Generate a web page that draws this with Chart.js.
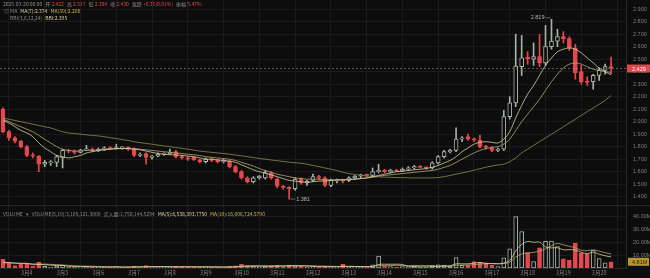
<!DOCTYPE html>
<html>
<head>
<meta charset="utf-8">
<script src="https://cdn.jsdelivr.net/npm/chart.js@4.4.1/dist/chart.umd.min.js"></script>
<style>
  body { margin: 0; background: #0d0d0d; width: 650px; height: 278px; overflow: hidden; position: relative;
         font-family: "Noto Sans CJK SC", "Liberation Sans", sans-serif; }
  canvas { position: absolute; left: 0; }
  #price { top: 0; }
  #vol { top: 205px; }
  .hd { position: absolute; font-size: 5px; line-height: 6px; white-space: nowrap; color: #8a8a8a; }
  .hd span { margin-right: 3px; }
  .r { color: #e5484d; font-weight: normal; }
  .w { color: #d9d3a3; }
  .y { color: #c9b45a; }
</style>
</head>
<body>
<canvas id="price" width="650" height="205"></canvas>
<canvas id="vol" width="650" height="73"></canvas>

<div class="hd" style="left:3px;top:1px"><span>2025-03-20 08:00</span><span>开 <b class="r">2.422</b></span><span>高 <b class="r">2.517</b></span><span>低 <b class="r">2.384</b></span><span>收 <b class="r">2.430</b></span><span>涨跌 <b class="r">+0.35(0.01%)</b></span><span>振幅 <b class="r">5.47%</b></span></div>
<div class="hd" style="left:4px;top:8px"><span>◎ MA</span><span class="w">MA(7):2.374</span><span class="y">MA(30):2.208</span></div>
<div class="hd" style="left:10px;top:15px"><span>BBI(3,6,12,24)</span><span class="w">BBI:2.395</span></div>
<div class="hd" style="left:3px;top:211px"><span>VOLUME</span><span>▾</span><span>VOLUME(5,10):3,105,121.3000</span><span>买入量:1,750,144.5294</span><span class="w">MA(5):8,538,393.7750</span><span class="y">MA(10):16,006,724.5790</span></div>

<script>
// 4h candles, 3/3 08:00 .. 3/20 08:00
const open  = [2.10,1.92,1.87,1.845,1.80,1.735,1.725,1.66,1.67,1.675,1.71,1.77,1.765,1.755,1.775,1.78,1.77,1.78,1.79,1.785,1.79,1.795,
  1.78,1.73,1.745,1.715,1.725,1.74,1.745,1.76,1.72,1.71,1.715,1.695,1.68,1.70,1.69,1.68,1.685,1.64,1.60,1.55,1.52,1.55,1.55,
  1.59,1.54,1.485,1.475,1.465,1.54,1.51,1.53,1.56,1.55,1.49,1.525,1.53,1.53,1.55,1.565,1.575,1.57,1.60,1.61,1.60,1.61,
  1.605,1.62,1.63,1.64,1.635,1.63,1.67,1.72,1.76,1.77,1.86,1.88,1.86,1.85,1.80,1.79,1.77,1.78,2.04,2.15,2.44,2.515,
  2.50,2.52,2.47,2.60,2.645,2.68,2.665,2.59,2.40,2.325,2.32,2.37,2.41,2.44];
const high  = [2.11,1.93,1.88,1.85,1.81,1.75,1.73,1.69,1.69,1.73,1.78,1.78,1.775,1.78,1.81,1.79,1.79,1.80,1.80,1.82,1.80,1.80,
  1.79,1.75,1.75,1.73,1.75,1.75,1.78,1.77,1.73,1.72,1.72,1.70,1.71,1.71,1.70,1.70,1.69,1.65,1.61,1.56,1.56,1.57,1.61,
  1.60,1.55,1.49,1.48,1.55,1.55,1.53,1.58,1.57,1.56,1.54,1.54,1.54,1.56,1.57,1.58,1.58,1.63,1.66,1.62,1.62,1.62,
  1.63,1.64,1.65,1.65,1.64,1.68,1.73,1.77,1.78,1.95,1.88,1.90,1.87,1.89,1.81,1.80,1.79,2.09,2.20,2.70,2.69,2.56,
  2.63,2.70,2.77,2.819,2.74,2.72,2.68,2.62,2.45,2.36,2.38,2.43,2.46,2.517];
const low   = [1.91,1.85,1.83,1.79,1.72,1.71,1.60,1.64,1.65,1.64,1.63,1.75,1.74,1.75,1.77,1.76,1.76,1.77,1.78,1.78,1.78,1.77,
  1.72,1.72,1.66,1.70,1.72,1.73,1.74,1.71,1.70,1.69,1.69,1.67,1.67,1.68,1.67,1.67,1.63,1.59,1.54,1.51,1.51,1.54,1.54,
  1.54,1.47,1.46,1.381,1.45,1.50,1.49,1.52,1.54,1.48,1.48,1.51,1.51,1.52,1.54,1.55,1.56,1.56,1.59,1.59,1.59,1.60,
  1.60,1.61,1.62,1.63,1.62,1.62,1.66,1.71,1.75,1.76,1.84,1.85,1.84,1.79,1.78,1.76,1.76,1.77,2.02,2.12,2.37,2.46,
  2.45,2.44,2.45,2.58,2.60,2.63,2.57,2.34,2.30,2.29,2.26,2.33,2.38,2.384];
const close = [1.92,1.87,1.845,1.80,1.73,1.725,1.66,1.675,1.675,1.72,1.77,1.765,1.755,1.775,1.78,1.77,1.78,1.79,1.785,1.79,1.795,1.78,
  1.73,1.735,1.715,1.725,1.74,1.745,1.755,1.72,1.71,1.70,1.695,1.68,1.70,1.69,1.68,1.685,1.64,1.60,1.55,1.52,1.55,1.565,1.59,
  1.55,1.485,1.475,1.465,1.54,1.51,1.525,1.56,1.55,1.49,1.53,1.53,1.525,1.55,1.565,1.575,1.57,1.60,1.61,1.60,1.61,1.605,
  1.62,1.63,1.64,1.635,1.63,1.67,1.72,1.76,1.77,1.86,1.87,1.86,1.855,1.80,1.795,1.77,1.78,2.04,2.15,2.445,2.51,2.505,
  2.52,2.47,2.60,2.645,2.68,2.665,2.59,2.39,2.32,2.315,2.37,2.41,2.44,2.429];
// volume in millions
const volume = [6.7,3.6,1.8,2.8,3.3,1.3,4.6,1.2,0.8,1.5,2.0,0.8,0.9,0.7,1.2,0.8,0.7,0.8,0.6,1.0,0.6,0.7,1.5,0.7,1.8,0.7,
  0.6,0.5,0.9,1.2,1.0,0.8,0.9,0.8,0.9,0.6,0.7,0.6,1.2,1.6,2.8,1.8,1.2,0.8,1.5,1.8,2.0,1.0,2.3,1.8,1.2,0.8,1.0,0.7,1.5,
  1.0,0.6,2.8,0.8,0.7,0.8,0.6,2.5,9.2,1.5,1.0,0.8,1.0,0.9,1.2,0.8,0.7,1.8,2.5,2.2,1.5,8.0,2.0,2.3,5.0,4.4,4.0,2.0,1.0,
  7.8,14.8,39.5,28.0,11.8,5.0,15.5,20.5,20.7,16.5,7.0,6.0,19.2,11.3,10.7,13.8,7.2,4.0,4.8];
const ma7 = [2.01,1.99,1.96,1.93,1.91,1.88,1.83,1.79,1.76,1.73,1.72,1.71,1.72,1.73,1.75,1.76,1.77,1.775,1.78,1.785,1.785,1.785,
  1.78,1.775,1.765,1.755,1.745,1.74,1.735,1.735,1.73,1.725,1.72,1.71,1.70,1.70,1.695,1.69,1.685,1.675,1.655,1.635,1.615,1.60,1.59,
  1.575,1.56,1.545,1.53,1.525,1.52,1.515,1.52,1.525,1.525,1.53,1.535,1.535,1.535,1.54,1.545,1.55,1.56,1.57,1.58,1.59,1.60,
  1.605,1.61,1.615,1.62,1.625,1.635,1.65,1.67,1.69,1.72,1.76,1.79,1.82,1.835,1.84,1.835,1.83,1.86,1.92,2.03,2.13,2.22,
  2.29,2.37,2.45,2.51,2.56,2.58,2.59,2.58,2.55,2.51,2.47,2.43,2.40,2.375];
const bbi = [2.02,2.00,1.98,1.96,1.94,1.92,1.89,1.86,1.83,1.80,1.78,1.77,1.765,1.765,1.77,1.77,1.775,1.78,1.78,1.785,1.785,1.785,
  1.785,1.78,1.775,1.77,1.765,1.76,1.755,1.75,1.745,1.74,1.735,1.73,1.72,1.715,1.71,1.705,1.70,1.69,1.675,1.66,1.645,1.625,1.61,
  1.595,1.58,1.57,1.56,1.55,1.545,1.54,1.54,1.54,1.535,1.535,1.535,1.535,1.54,1.54,1.545,1.55,1.555,1.565,1.57,1.575,1.58,
  1.585,1.59,1.595,1.60,1.605,1.61,1.62,1.635,1.65,1.675,1.70,1.725,1.75,1.77,1.785,1.795,1.80,1.82,1.86,1.93,2.00,2.06,
  2.12,2.18,2.25,2.32,2.38,2.43,2.46,2.47,2.46,2.44,2.42,2.41,2.40,2.395];
const ma30 = [2.03,2.02,2.01,2.00,1.99,1.98,1.97,1.96,1.95,1.935,1.92,1.91,1.905,1.90,1.895,1.89,1.886,1.88,1.872,1.865,1.857,1.85,
  1.84,1.833,1.826,1.82,1.813,1.806,1.80,1.793,1.786,1.78,1.773,1.765,1.76,1.755,1.75,1.745,1.74,1.733,1.727,1.72,1.713,1.706,1.70,
  1.694,1.688,1.682,1.676,1.672,1.668,1.66,1.65,1.64,1.63,1.62,1.61,1.595,1.585,1.578,1.572,1.566,1.562,1.559,1.557,1.555,1.553,
  1.552,1.551,1.55,1.55,1.55,1.55,1.553,1.56,1.57,1.58,1.59,1.60,1.612,1.624,1.636,1.645,1.654,1.66,1.68,1.71,1.75,1.78,
  1.81,1.84,1.87,1.90,1.93,1.96,1.99,2.02,2.05,2.08,2.11,2.14,2.17,2.21];
const volMa5 = [4.5,4.2,3.8,3.6,3.6,2.6,2.7,2.6,2.2,1.9,2.0,1.3,1.2,1.2,1.1,0.9,0.9,0.8,0.8,0.8,0.7,0.7,0.9,0.9,1.1,1.1,1.1,
  1.1,0.9,0.8,0.9,0.9,0.9,0.9,0.9,0.8,0.8,0.7,0.8,0.9,1.3,1.6,1.7,1.7,1.6,1.4,1.5,1.6,1.7,1.8,1.7,1.6,1.4,1.1,1.0,1.0,
  1.0,1.3,1.3,1.2,1.1,1.1,1.1,2.7,2.9,2.9,2.9,2.7,1.0,1.0,0.9,0.9,1.1,1.4,1.7,1.7,3.2,3.2,3.2,3.7,4.3,3.5,3.5,3.3,3.8,
  5.9,13.2,18.2,20.4,19.8,19.9,16.2,15.5,15.6,14.0,14.1,13.9,12.0,11.1,12.2,10.6,9.4,8.5];
const volMa10 = [4.0,3.9,3.7,3.5,3.4,3.2,3.1,3.0,2.8,2.6,2.3,2.0,1.7,1.5,1.4,1.4,1.1,1.0,1.0,0.9,0.8,0.8,0.8,0.8,0.9,0.9,0.9,
  1.0,1.0,1.0,1.0,1.0,0.9,0.9,0.9,0.9,0.9,0.8,0.8,0.9,1.1,1.2,1.3,1.3,1.3,1.4,1.5,1.5,1.6,1.6,1.6,1.6,1.5,1.5,1.4,1.3,
  1.2,1.3,1.2,1.2,1.1,1.0,1.2,1.9,1.9,2.0,2.0,2.0,1.9,2.0,1.9,1.9,1.9,1.2,1.3,1.3,2.1,2.2,2.3,2.5,3.0,3.3,3.3,3.2,3.5,
  4.5,8.4,10.8,11.6,12.0,13.1,14.7,17.2,18.9,17.8,16.7,15.6,13.6,13.4,13.9,13.0,11.8,10.8];
const priceTicks = [1.4,1.5,1.6,1.7,1.8,1.9,2.0,2.1,2.2,2.3,2.4,2.5,2.6,2.7,2.8,2.9];
const volTicks = [10,20,30,40];
const lastPrice = 2.429;
const lastVolLabel = '4.81M';

// category labels: 4h bars from 3/3 08:00, plus two empty slots on the right
const times = [];
for (let i = 0; i < open.length; i++) {
  const h = 8 + i * 4;
  times.push({ day: 3 + Math.floor(h / 24), hour: h % 24 });
}
const labels = times.map(t => '3月' + t.day + ' ' + t.hour + ':00').concat(['', '']);

const UP = '#a9b2a9', DOWN = '#e5484d', BG = '#0d0d0d', GRID = '#1b1b1b', TXT = '#7f7f7f';
const isUp = open.map((o, i) => close[i] >= o);
const candleColor = isUp.map(u => u ? UP : DOWN);

const bgPlugin = {
  id: 'bg',
  beforeDraw(c) {
    const ctx = c.ctx;
    ctx.save();
    ctx.fillStyle = BG;
    ctx.fillRect(0, 0, c.width, c.height);
    ctx.restore();
  }
};

const xTick = (val, idx) => {
  const t = times[idx];
  if (!t || t.hour !== 0) return null;
  return '3月' + t.day;
};

const noPad = s => { s.paddingTop = 0; s.paddingBottom = 0; s.paddingLeft = 0; s.paddingRight = 0; };

const priceMarks = {
  id: 'priceMarks',
  afterDatasetsDraw(c) {
    const ctx = c.ctx, x = c.scales.x, y = c.scales.y, area = c.chartArea;
    ctx.save();
    // last price line + box
    const py = Math.round(y.getPixelForValue(lastPrice)) + 0.5;
    ctx.strokeStyle = '#8a8a8a';
    ctx.lineWidth = 0.6;
    ctx.setLineDash([2, 2]);
    ctx.beginPath(); ctx.moveTo(area.left, py); ctx.lineTo(area.right, py); ctx.stroke();
    ctx.setLineDash([]);
    ctx.fillStyle = '#e0474c';
    ctx.fillRect(area.right + 1, py - 4, 23, 8);
    ctx.fillStyle = '#ffffff';
    ctx.font = '5.5px "Liberation Sans", sans-serif';
    ctx.textBaseline = 'middle';
    ctx.fillText(lastPrice.toFixed(3), area.right + 6, py + 0.5);
    // high / low markers
    let hi = 0, lo = 0;
    high.forEach((v, i) => { if (v > high[hi]) hi = i; });
    low.forEach((v, i) => { if (v < low[lo]) lo = i; });
    ctx.strokeStyle = '#9a9a9a';
    ctx.fillStyle = '#b5b5b5';
    ctx.lineWidth = 0.6;
    const hx = x.getPixelForValue(hi), hy = y.getPixelForValue(high[hi]);
    ctx.beginPath(); ctx.moveTo(hx - 1, hy - 1.5); ctx.lineTo(hx - 6, hy - 1.5); ctx.stroke();
    ctx.textAlign = 'right';
    ctx.fillText(high[hi].toFixed(3), hx - 7, hy - 1.5);
    const lx = x.getPixelForValue(lo), ly = y.getPixelForValue(low[lo]);
    ctx.beginPath(); ctx.moveTo(lx + 1, ly); ctx.lineTo(lx + 6, ly); ctx.stroke();
    ctx.textAlign = 'left';
    ctx.fillText(low[lo].toFixed(3), lx + 7, ly);
    ctx.restore();
  }
};

const volMarks = {
  id: 'volMarks',
  afterDatasetsDraw(c) {
    const ctx = c.ctx, y = c.scales.y, area = c.chartArea;
    ctx.save();
    // pane separator
    ctx.strokeStyle = '#272727';
    ctx.lineWidth = 1;
    ctx.beginPath(); ctx.moveTo(0, 0.5); ctx.lineTo(c.width, 0.5); ctx.stroke();
    const vy = y.getPixelForValue(volume[volume.length - 1]);
    ctx.fillStyle = '#b8952f';
    ctx.fillRect(area.right + 2, vy - 4, 21, 8);
    ctx.fillStyle = '#1a1a1a';
    ctx.font = '5.5px "Liberation Sans", sans-serif';
    ctx.textBaseline = 'middle';
    ctx.fillText(lastVolLabel, area.right + 6, vy + 0.5);
    ctx.restore();
  }
};

const lineDs = (data, color) => ({
  type: 'line', data, borderColor: color, borderWidth: 0.8, pointRadius: 0, tension: 0.35, fill: false
});

new Chart(document.getElementById('price'), {
  type: 'bar',
  data: {
    labels,
    datasets: [
      lineDs(ma7, '#d8d2a2'),
      lineDs(bbi, '#b3a96c'),
      lineDs(ma30, '#8e8a55'),
      {
        data: open.map((o, i) => [o, close[i]]),
        backgroundColor: isUp.map(u => u ? BG : DOWN),
        borderColor: candleColor,
        borderWidth: 1, borderSkipped: false,
        barThickness: 4, minBarLength: 1, grouped: false
      },
      {
        data: low.map((l, i) => [l, high[i]]),
        backgroundColor: candleColor,
        borderWidth: 0,
        barThickness: 1, grouped: false
      }
    ]
  },
  options: {
    responsive: false, animation: false, devicePixelRatio: 1,
    layout: { padding: 0, autoPadding: false },
    plugins: { legend: { display: false }, tooltip: { enabled: false } },
    scales: {
      x: {
        grid: { color: GRID, drawTicks: false },
        border: { display: false },
        ticks: { display: true, autoSkip: false, maxRotation: 0, callback: xTick, font: { size: 1 }, color: 'rgba(0,0,0,0)', padding: 0 },
        afterFit: s => { s.height = 0; noPad(s); }
      },
      y: {
        position: 'right', min: 1.3336, max: 2.9736,
        grid: { color: GRID, drawTicks: true, tickLength: 7, tickColor: 'rgba(0,0,0,0)' },
        border: { color: '#262626' },
        afterBuildTicks: s => { s.ticks = priceTicks.map(v => ({ value: v })); },
        ticks: { color: TXT, padding: 0, font: { size: 5.5, family: 'Liberation Sans' }, callback: v => v.toFixed(3) },
        afterFit: s => { s.width = 24; noPad(s); }
      }
    }
  },
  plugins: [bgPlugin, priceMarks]
});

new Chart(document.getElementById('vol'), {
  type: 'bar',
  data: {
    labels,
    datasets: [
      lineDs(volMa5, '#d8d2a2'),
      lineDs(volMa10, '#b3a96c'),
      {
        data: volume,
        backgroundColor: isUp.map(u => u ? BG : DOWN),
        borderColor: candleColor,
        borderWidth: 1, borderSkipped: false,
        barThickness: 4, grouped: false
      }
    ]
  },
  options: {
    responsive: false, animation: false, devicePixelRatio: 1,
    layout: { padding: 0, autoPadding: false },
    plugins: { legend: { display: false }, tooltip: { enabled: false } },
    scales: {
      x: {
        grid: { color: GRID, drawTicks: false },
        border: { color: '#262626' },
        ticks: { autoSkip: false, maxRotation: 0, callback: xTick, color: TXT, padding: 2, font: { size: 5.5, family: 'Noto Sans CJK SC' } },
        afterFit: s => { s.height = 10; noPad(s); }
      },
      y: {
        position: 'right', min: 0, max: 48.5,
        grid: { color: GRID, drawTicks: true, tickLength: 7, tickColor: 'rgba(0,0,0,0)' },
        border: { color: '#262626' },
        afterBuildTicks: s => { s.ticks = volTicks.map(v => ({ value: v })); },
        ticks: { color: TXT, padding: 0, font: { size: 5.5, family: 'Liberation Sans' }, callback: v => v.toFixed(2) + 'M' },
        afterFit: s => { s.width = 24; noPad(s); }
      }
    }
  },
  plugins: [bgPlugin, volMarks]
});
</script>
</body>
</html>
